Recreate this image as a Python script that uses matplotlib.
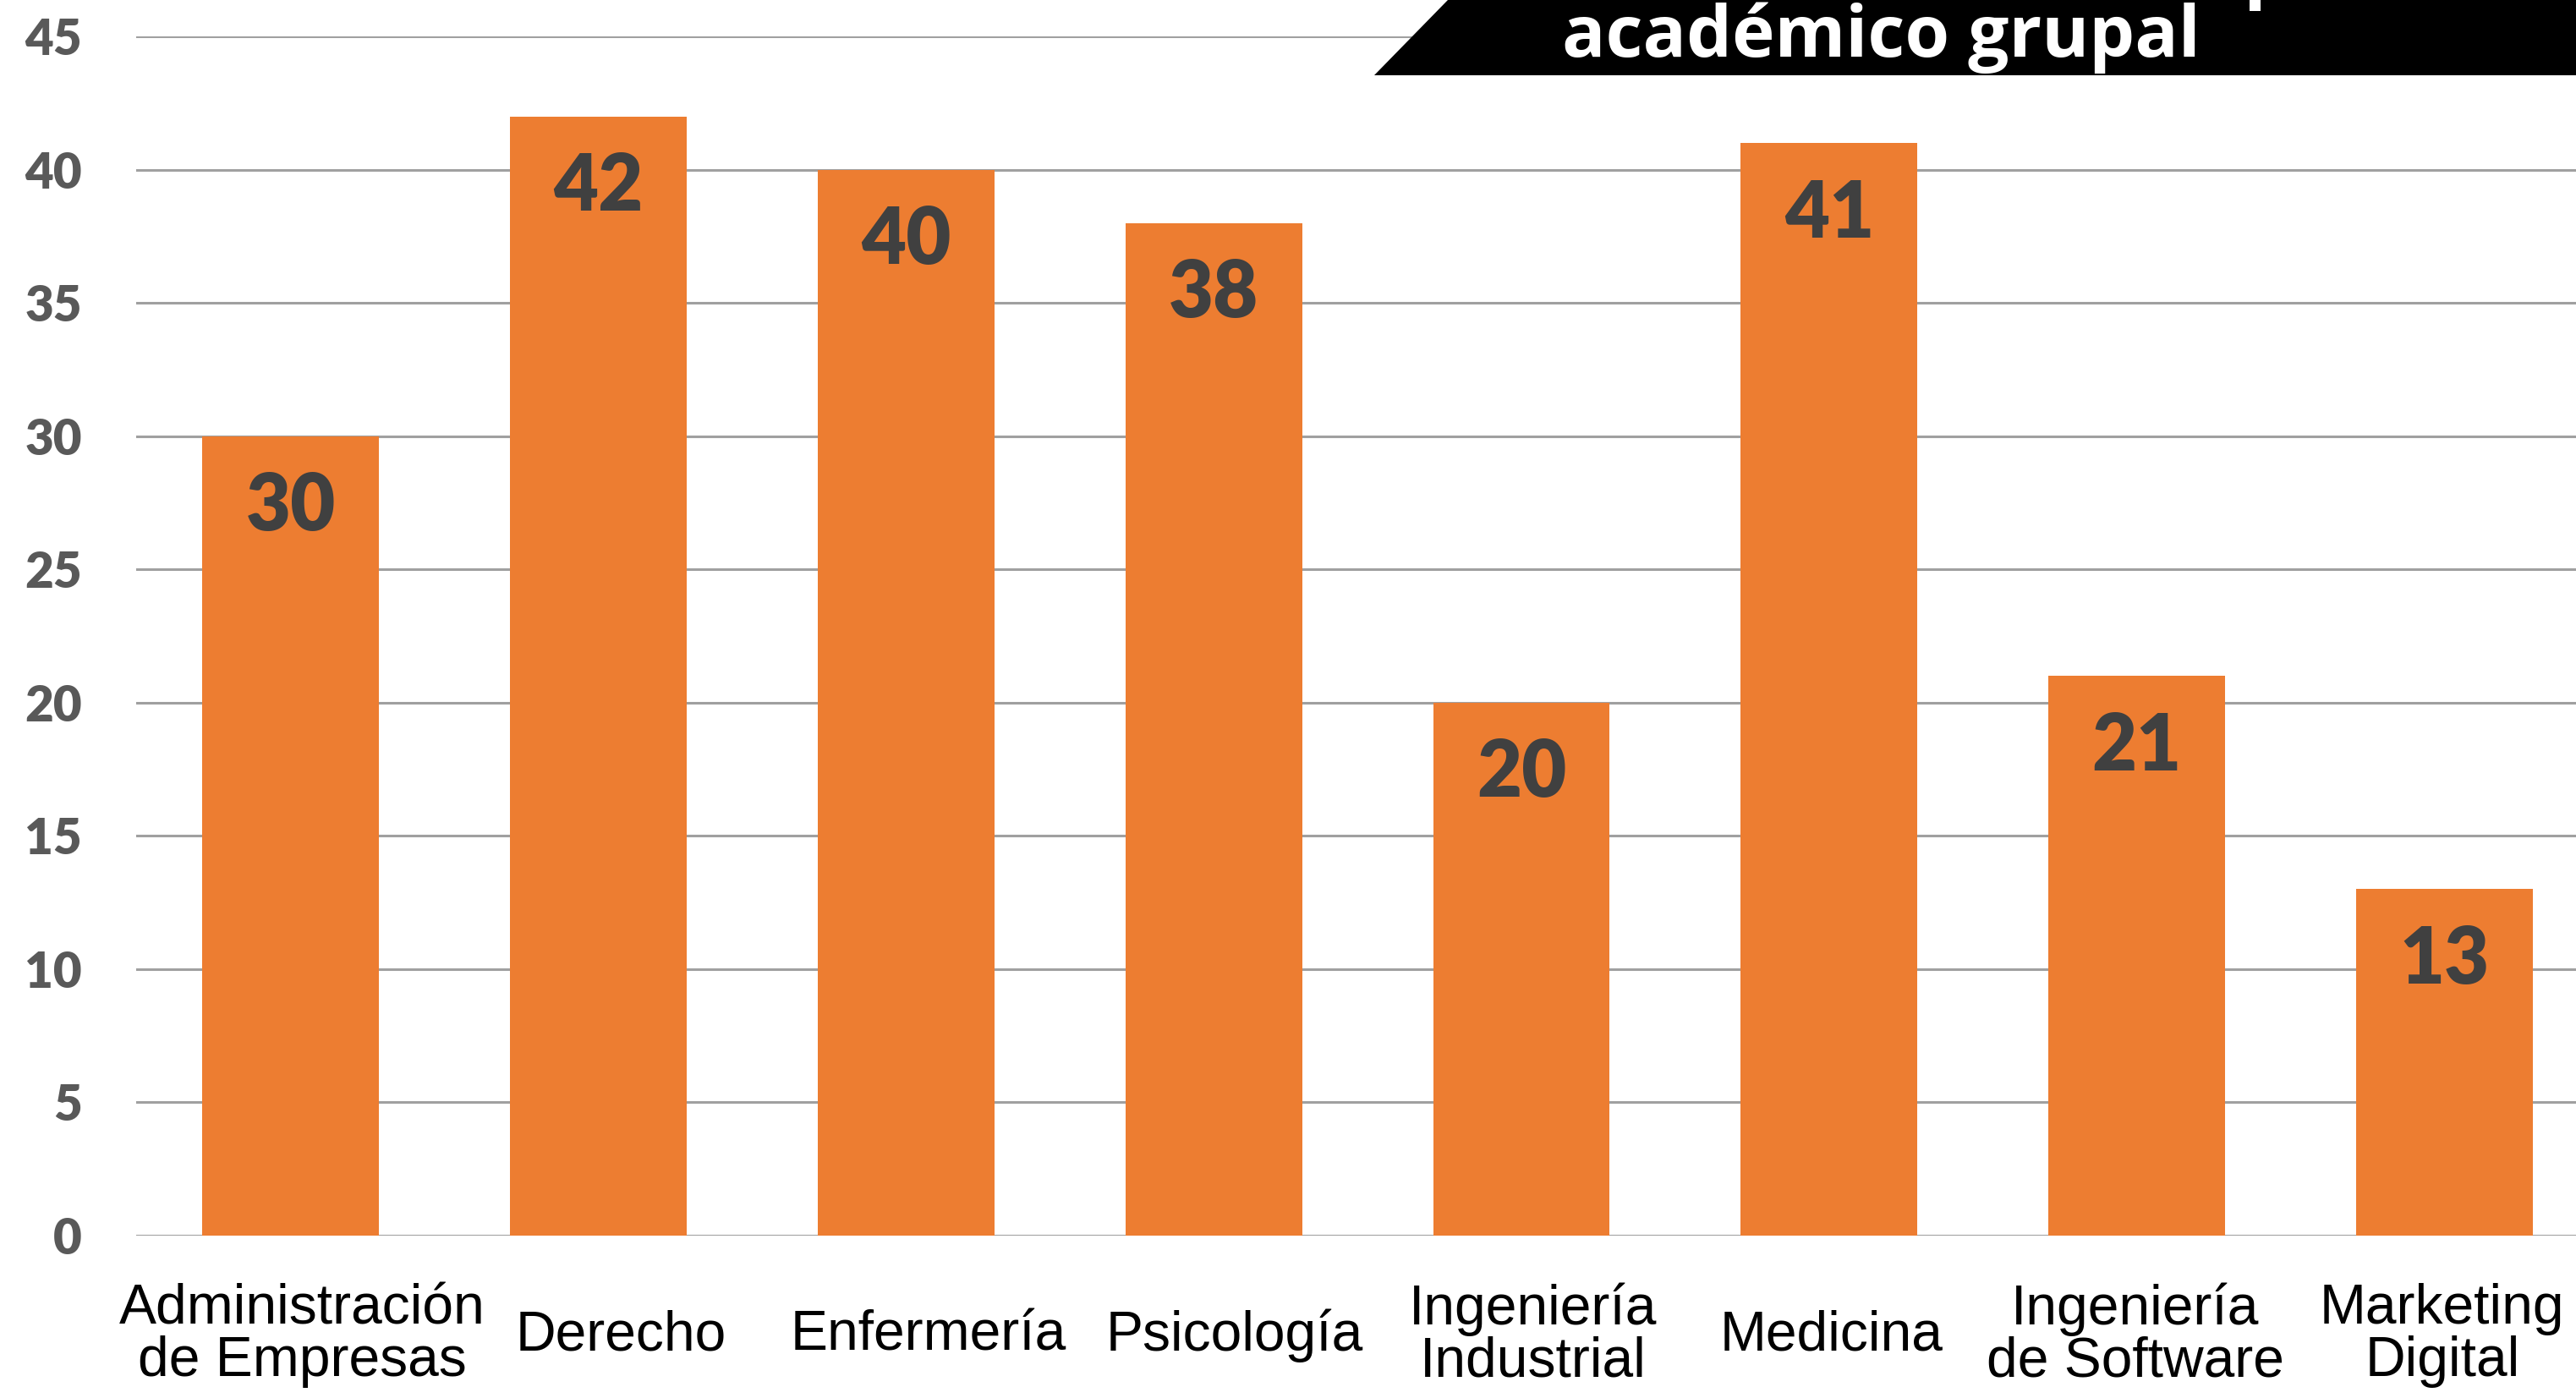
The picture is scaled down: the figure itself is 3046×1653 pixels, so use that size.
import matplotlib
matplotlib.use("Agg")
import matplotlib.pyplot as plt
from matplotlib.patches import Polygon, Rectangle
from matplotlib.transforms import ScaledTranslation

categories = ["Administración\nde Empresas", "Derecho", "Enfermería", "Psicología",
              "Ingeniería\nIndustrial", "Medicina", "Ingeniería\nde Software",
              "Marketing\nDigital"]
values = [30, 42, 40, 38, 20, 41, 21, 13]
yticks = [0, 5, 10, 15, 20, 25, 30, 35, 40, 45]
banner_text = "académico grupal"

# small horizontal nudges of the category labels (points), layout only
label_nudge = [10, 19, 19, 18, 10, 2, -1.5, -2]

W, H = 3046, 1653
fig = plt.figure(figsize=(W / 100, H / 100), dpi=100)
fig.patch.set_facecolor("white")

ax = fig.add_axes([161 / W, 1 - 1461 / H, 1 - 161 / W, (1461 - 43) / H])
x = list(range(len(values)))
bars = ax.bar(x, values, width=0.574, color="#ED7D31", zorder=3)

ax.set_ylim(0, 45)
ax.set_xlim(-0.5016, 7.427)
ax.set_yticks(yticks)
ax.set_yticklabels([str(t) for t in yticks], fontfamily="Lato", fontweight="heavy",
                   fontsize=42, color="#595959")
ax.tick_params(axis="y", length=0, pad=46)
ax.yaxis.grid(True, color="#A0A0A0", linewidth=2.2, zorder=0)
ax.set_axisbelow(True)
for s in ax.spines.values():
    s.set_visible(False)

ax.set_xticks(x)
ax.set_xticklabels(categories, fontfamily="Liberation Sans", fontsize=47.5,
                   color="black", linespacing=1.0)
ax.tick_params(axis="x", length=0, pad=85)
for lbl, dx in zip(ax.get_xticklabels(), label_nudge):
    lbl.set_verticalalignment("center")
    lbl.set_transform(lbl.get_transform() + ScaledTranslation(dx / 72, 0, fig.dpi_scale_trans))

for xi, v in zip(x, values):
    ax.annotate(str(v), xy=(xi, v), xytext=(0, -61), textcoords="offset points",
                ha="center", va="center", fontfamily="Lato", fontweight="heavy",
                fontsize=66, color="#404040", zorder=4)

# black banner at the top
pts = [(1712 / W, 1.0), (1.0, 1.0), (1.0, 1 - 89 / H), (1625 / W, 1 - 89 / H)]
fig.patches.append(Polygon(pts, closed=True, transform=fig.transFigure,
                           facecolor="black", edgecolor="none", zorder=5))
fig.text(2224 / W, 1 - 67 / H, banner_text, ha="center", va="baseline",
         fontfamily="Open Sans", fontweight="bold", fontsize=61.5, color="white",
         zorder=6)
fig.patches.append(Rectangle((2660 / W, 1 - 13 / H), 13 / W, 13 / H,
                             transform=fig.transFigure, facecolor="white",
                             edgecolor="none", zorder=6))

fig.savefig("out.png", dpi=100)
